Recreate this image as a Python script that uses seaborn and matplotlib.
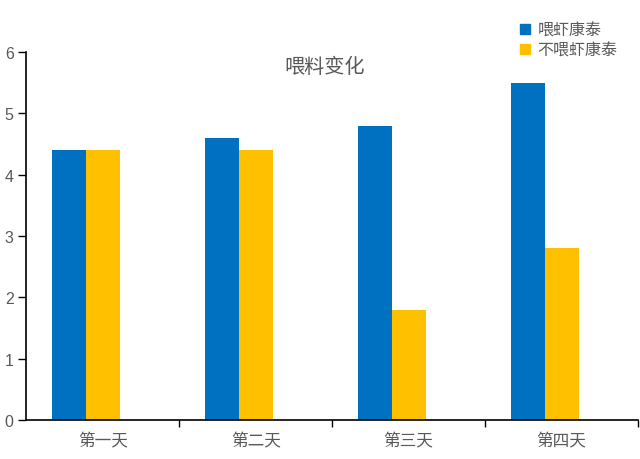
import numpy as np
import pandas as pd
import matplotlib.pyplot as plt
from matplotlib.patches import Patch
from matplotlib.ticker import FixedLocator
import seaborn as sns

## data ##

days = ['第一天', '第二天', '第三天', '第四天']
series = ['喂虾康泰', '不喂虾康泰']
fed = [4.4, 4.6, 4.8, 5.5]
not_fed = [4.4, 4.4, 1.8, 2.8]

colors = ['#0070C0', '#FFC000', '#FFFFFF']

# the original chart reserves a third (empty) slot in every group
df = pd.DataFrame({
    'day': days * 2,
    'group': [series[0]] * 4 + [series[1]] * 4,
    'value': fed + not_fed,
})

sns.set_style('ticks')
plt.rcParams['font.family'] = ['Liberation Sans', 'Noto Sans CJK SC', 'DejaVu Sans']

fig = plt.figure(figsize=(6.4, 4.6), dpi=100)
ax = fig.add_axes([0.041, 0.085, 0.956, 0.80])

sns.barplot(data=df, x='day', y='value', hue='group',
            hue_order=series + ['空'], palette=colors,
            width=2 / 3, saturation=1, linewidth=0, legend=False, ax=ax)

ax.set_xlim(-0.5, 3.5)
ax.set_ylim(0, 6)
ax.set_yticks(range(7))
ax.set_xlabel('')
ax.set_ylabel('')

grey = '#595959'
ax.tick_params(axis='y', labelsize=11.5, labelcolor=grey, length=6, width=1, color='black', pad=3)
ax.tick_params(axis='x', which='major', length=0, labelsize=12, labelcolor=grey, pad=9)
ax.xaxis.set_minor_locator(FixedLocator([0.5, 1.5, 2.5, 3.5]))
ax.tick_params(axis='x', which='minor', length=5, width=1, color='black')

for s in ['top', 'right']:
    ax.spines[s].set_visible(False)
for s in ['left', 'bottom']:
    ax.spines[s].set_color('black')
    ax.spines[s].set_linewidth(1.2)

ax.text(0.487, 0.962, '喂料变化', transform=ax.transAxes, ha='center', va='center',
        fontsize=14.5, color=grey)

handles = [Patch(color=colors[0], label=series[0]), Patch(color=colors[1], label=series[1])]
fig.legend(handles=handles, loc='upper left', bbox_to_anchor=(0.8, 0.966),
           frameon=False, fontsize=11.5, labelcolor=grey, handlelength=0.6,
           handleheight=0.6, handletextpad=0.5, labelspacing=0.3, borderpad=0)

fig.savefig('out.png', dpi=100)
